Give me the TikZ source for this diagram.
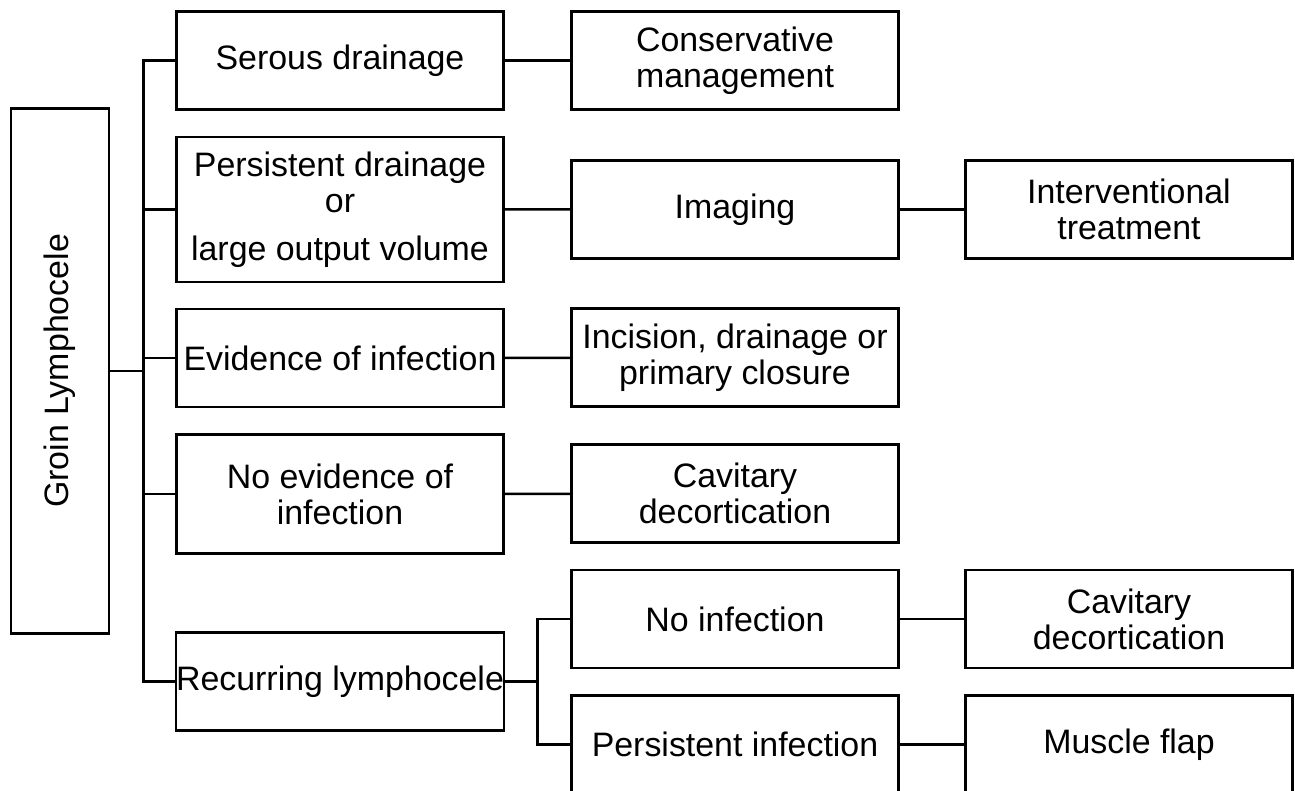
\documentclass[tikz,border=0pt]{standalone}
\usepackage{fontspec}
\setmainfont{Liberation Sans}
\usepackage{tikz}
\usetikzlibrary{positioning}
\tikzset{box/.style = {draw, line width=1.5pt, minimum width=6.54cm, minimum height=1.96cm,
                       inner sep=0pt, align=center, font=\fontsize{19.3}{20.5}\selectfont},
         link/.style = {line width=1.5pt}}

\begin{document}
\begin{tikzpicture}[x=0.02cm, y=-0.02cm]
      \useasboundingbox (0, 0) rectangle (1295, 791);
      \clip (0, 0) rectangle (1295, 791);

      \node [box, rotate=90, minimum width=10.5cm] (groin) at (60, 371) {Groin Lymphocele};

      \node [box] (serous) at (340, 60.3) {Serous drainage};
      \node [box, minimum height=2.9cm] (persist) at (340, 209.5)
            {Persistent drainage\\or\\[7pt]large output volume};
      \node [box] (evid) at (340, 358) {Evidence of infection};
      \node [box, minimum height=2.37cm] (noevid) at (340, 494) {No evidence of\\infection};
      \node [box] (recur) at (340, 681.7) {Recurring lymphocele};

      \node [box] (conserv) at (735, 60.3) {Conservative\\management};
      \node [box] (imaging) at (735, 209.3) {Imaging};
      \node [box] (incision) at (735, 357.7) {Incision, drainage or\\primary closure};
      \node [box] (cavit) at (735, 493.7) {Cavitary\\decortication};
      \node [box] (noinf) at (735, 619) {No infection};
      \node [box] (persinf) at (735, 744.3) {Persistent infection};

      \node [box] (interv) at (1129, 209.3) {Interventional\\treatment};
      \node [box] (cavitb) at (1129, 619) {Cavitary\\decortication};
      \node [box] (flap) at (1129, 744.3) {Muscle flap};

      % branching lines
      \coordinate (split) at (143.5, 371);
      \coordinate (subsplit) at (537.5, 681.7);
      \draw [link] (groin.south) -- (split);
      \draw [link] (serous.west) -| (split) |- (recur.west);
      \foreach \n in {persist, evid, noevid}
        \draw [link] (\n.west) -- (\n.west -| split);
      \draw [link] (recur.east) -- (subsplit);
      \draw [link] (noinf.west) -| (subsplit) |- (persinf.west);
      \foreach \a/\b in {serous/conserv, persist/imaging, evid/incision, noevid/cavit,
                         imaging/interv, noinf/cavitb, persinf/flap}
        \draw [link] (\a) -- (\b);
    \end{tikzpicture}
\end{document}
